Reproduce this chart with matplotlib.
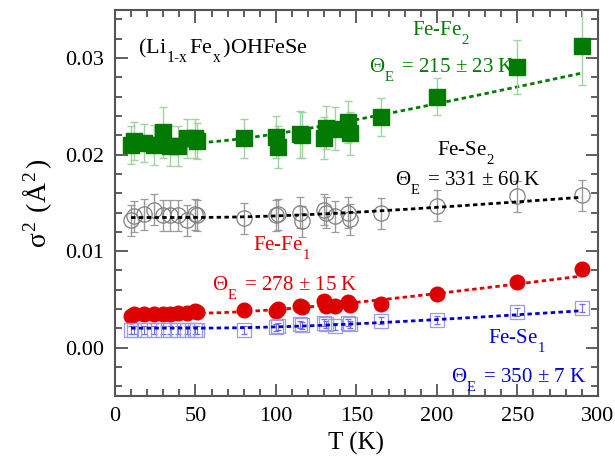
import numpy as np
import matplotlib
matplotlib.use("Agg")
import matplotlib.pyplot as plt
from matplotlib.ticker import MultipleLocator, FormatStrFormatter

plt.rcParams['font.family'] = ['Liberation Serif', 'DejaVu Serif']
plt.rcParams['mathtext.fontset'] = 'custom'
plt.rcParams['mathtext.rm'] = 'Liberation Serif'
plt.rcParams['mathtext.it'] = 'Liberation Serif:italic'
plt.rcParams['mathtext.bf'] = 'Liberation Serif:bold'

# deeper, more spaced subscripts as in the original figure
try:
    import matplotlib._mathtext as _mt
    _mt.FontConstantsBase.sub1 = 0.9
    _mt.FontConstantsBase.delta = 0.12
    _mt.FontConstantsBase.script_space = 0.25
except Exception:
    pass

# ---- data ----
T = [10, 12, 18, 24, 30, 34, 39, 45, 50, 51, 80, 100, 101, 115, 116,
     130, 131, 137, 145, 146, 165, 200, 250, 290]

fefe2 = [0.0210, 0.0214, 0.0212, 0.0210, 0.0223, 0.0209, 0.0209, 0.0217, 0.0217, 0.0214,
         0.0217, 0.0218, 0.0208, 0.0221, 0.0220, 0.0217, 0.0228, 0.0227, 0.0234, 0.0222,
         0.0239, 0.0260, 0.0291, 0.0313]
fefe2_err = [0.0020, 0.0020, 0.0020, 0.0021, 0.0026, 0.0021, 0.0021, 0.0020, 0.0020, 0.0019,
             0.0020, 0.0022, 0.0022, 0.0024, 0.0024, 0.0022, 0.0022, 0.0022, 0.0022, 0.0022,
             0.0020, 0.0019, 0.0028, 0.0041]

fese2 = [0.0132, 0.0136, 0.0138, 0.0143, 0.0137, 0.0137, 0.0137, 0.0132, 0.0138, 0.0137,
         0.0134, 0.0137, 0.0138, 0.0140, 0.0131, 0.0143, 0.0140, 0.0136, 0.0140, 0.0133,
         0.0139, 0.0147, 0.0157, 0.0158]
fese2_err = [0.0016] * 24

fefe1 = [0.0033, 0.0035, 0.0035, 0.0035, 0.0035, 0.0035, 0.0036, 0.0036, 0.0038, 0.0037,
         0.0039, 0.0038, 0.0040, 0.0043, 0.0042, 0.0048, 0.0043, 0.0043, 0.0047, 0.0044,
         0.0045, 0.0056, 0.0068, 0.0081]
fefe1_err = [0.0005] * 24

fese1 = [0.0018, 0.0018, 0.0018, 0.0018, 0.0018, 0.0018, 0.0018, 0.0018, 0.0018, 0.0018,
         0.0018, 0.0021, 0.0022, 0.0024, 0.0023, 0.0026, 0.0024, 0.0022, 0.0026, 0.0024,
         0.0028, 0.0029, 0.0037, 0.0041]
fese1_err = [0.0004] * 24

# Einstein-model fit parameters (theta_E in K, reduced mass in amu, static offset in A^2)
theta = {'fefe2': 215, 'fese2': 331, 'fefe1': 278, 'fese1': 350}
mu = {'fefe2': 27.92, 'fese2': 32.71, 'fefe1': 27.92, 'fese1': 32.71}
static = {'fefe2': 0.01705, 'fese2': 0.01124, 'fefe1': 0.00041, 'fese1': -0.0001}
HB2 = 24.254  # hbar^2/(2 k_B amu) in A^2 K


def einstein(t, key):
    th = theta[key]
    return static[key] + HB2 / (mu[key] * th) / np.tanh(th / (2.0 * t))


Tfit = np.linspace(10, 290, 200)

fig = plt.figure(figsize=(6.15, 4.68), dpi=100)
ax = fig.add_axes([0.187, 0.154, 0.785, 0.825])

green = '#007a00'
red = '#dd0000'
blue = '#0000cc'

dash = (0, (1.6, 1.2))
ax.plot(Tfit, einstein(Tfit, 'fefe2'), color=green, lw=2, ls=dash, zorder=2)
ax.plot(Tfit, einstein(Tfit, 'fese2'), color='black', lw=2, ls=dash, zorder=4)
ax.plot(Tfit, einstein(Tfit, 'fefe1'), color=red, lw=2, ls=dash, zorder=2)
ax.plot(Tfit, einstein(Tfit, 'fese1'), color=blue, lw=2, ls=dash, zorder=4)

ax.errorbar(T, fefe2, yerr=fefe2_err, fmt='s', ms=11, mfc=green, mec=green,
            ecolor='#9fd49f', elinewidth=1, capsize=3, capthick=1, zorder=3)
ax.errorbar(T, fese2, yerr=fese2_err, fmt='o', ms=11, mfc='none', mec='#808080', mew=0.9,
            ecolor='#9a9a9a', elinewidth=1, capsize=3, capthick=1, zorder=3)
ax.errorbar(T, fefe1, yerr=fefe1_err, fmt='o', ms=10.5, mfc=red, mec=red,
            ecolor='#f08080', elinewidth=1, capsize=3, capthick=1, zorder=3)
ax.errorbar(T, fese1, yerr=fese1_err, fmt='s', ms=10, mfc='none', mec='#9a9af0', mew=0.9,
            ecolor='#7070e0', elinewidth=0.8, capsize=2.5, capthick=0.8, zorder=3)

ax.set_xlim(0, 300)
ax.set_ylim(-0.005, 0.035)
ax.xaxis.set_major_locator(MultipleLocator(50))
ax.xaxis.set_minor_locator(MultipleLocator(10))
ax.yaxis.set_major_locator(MultipleLocator(0.01))
ax.yaxis.set_minor_locator(MultipleLocator(0.002))
ax.yaxis.set_major_formatter(FormatStrFormatter('%.2f'))
ax.tick_params(which='both', direction='in', top=True, right=True, colors='#444444',
               labelcolor='black', labelsize=16, width=1.2)
ax.tick_params(which='major', length=9, pad=8)
ax.tick_params(which='minor', length=5)
for s in ax.spines.values():
    s.set_color('#555555')
    s.set_linewidth(1.5)

ax.set_xlabel('T (K)', fontsize=18, labelpad=4)
ax.set_ylabel('σ$^2$ (Å$^2$)', fontsize=20, labelpad=8)

fs = 15
ax.text(14.3, 0.0305, '(Li$_{\\text{1-x}}$Fe$_\\mathrm{x}$)OHFeSe', fontsize=16, color='black')
ax.text(184.5, 0.0324, 'Fe-Fe$_2$', fontsize=fs, color=green)
ax.text(157.8, 0.0286, 'Θ$_\\mathrm{E}$ = 215 ± 23 K', fontsize=fs, color=green)
ax.text(200, 0.0200, 'Fe-Se$_2$', fontsize=fs, color='black')
ax.text(174, 0.01686, 'Θ$_\\mathrm{E}$ = 331 ± 60 K', fontsize=fs, color='black')
ax.text(85.7, 0.0101, 'Fe-Fe$_1$', fontsize=fs, color=red)
ax.text(60, 0.0060, 'Θ$_\\mathrm{E}$ = 278 ± 15 K', fontsize=fs, color=red)
ax.text(231.7, 0.00049, 'Fe-Se$_1$', fontsize=fs, color=blue)
ax.text(209, -0.00355, 'Θ$_\\mathrm{E}$ = 350 ± 7 K', fontsize=fs, color=blue)

fig.savefig('out.png', dpi=100)
